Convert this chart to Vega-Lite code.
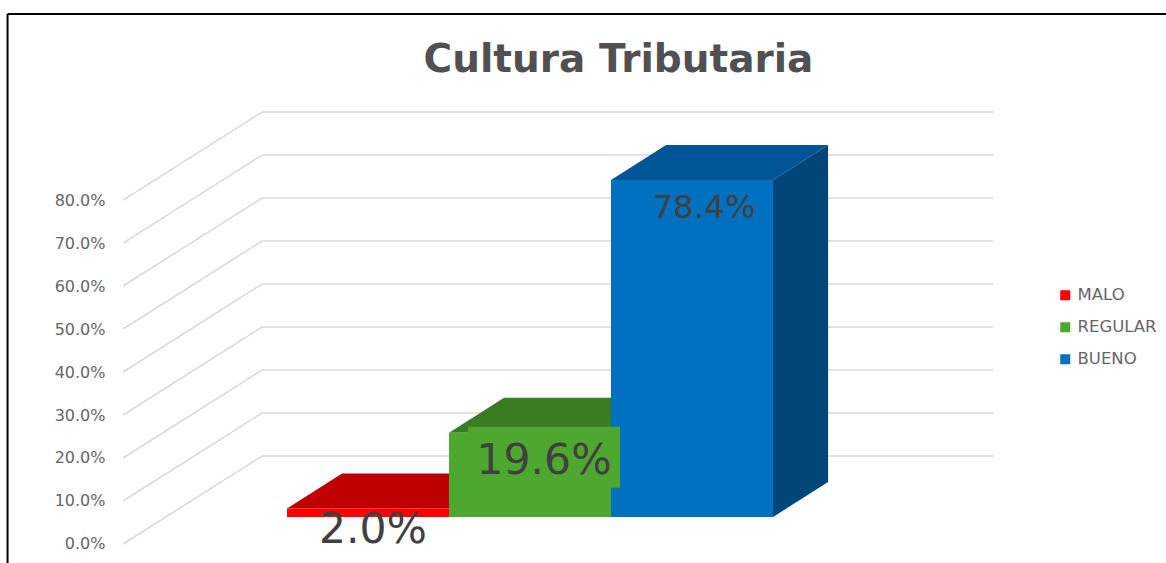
{
"$schema":"https://vega.github.io/schema/vega-lite/v6.json",
"width":1061,"height":463,
"autosize":{"type":"none"},
"padding":{"left":105,"top":100,"right":0,"bottom":0},
"background":"white",
"config":{"view":{"stroke":null}},
"title":{"text":"Cultura Tributaria","font":"DejaVu Sans","fontSize":39,"fontWeight":"bold","color":"#505050","anchor":"middle","dx":-17,"offset":-67,"frame":"group"},
"datasets":{
"lineas":[{"v":0},{"v":0.1},{"v":0.2},{"v":0.3},{"v":0.4},{"v":0.5},{"v":0.6},{"v":0.7},{"v":0.8}],
"barras":[
{"categoria":"MALO","valor":0.02,"inicio":0,"fin":1},
{"categoria":"REGULAR","valor":0.196,"inicio":1,"fin":2},
{"categoria":"BUENO","valor":0.784,"inicio":2,"fin":3}],
"caras":[
{"cara":"top MALO","u":0,"a":0.02,"b":0.02},{"cara":"top MALO","u":0.34,"a":0.02,"b":0.1014},{"cara":"top MALO","u":1,"a":0.02,"b":0.1014},{"cara":"top MALO","u":1.34,"a":0.1014,"b":0.1014},
{"cara":"top REGULAR","u":1,"a":0.196,"b":0.196},{"cara":"top REGULAR","u":1.34,"a":0.196,"b":0.2774},{"cara":"top REGULAR","u":2,"a":0.196,"b":0.2774},{"cara":"top REGULAR","u":2.34,"a":0.2774,"b":0.2774},
{"cara":"top BUENO","u":2,"a":0.784,"b":0.784},{"cara":"top BUENO","u":2.34,"a":0.784,"b":0.8654},{"cara":"top BUENO","u":3,"a":0.784,"b":0.8654},{"cara":"top BUENO","u":3.34,"a":0.8654,"b":0.8654},
{"cara":"side BUENO","u":3,"a":0,"b":0.784},{"cara":"side BUENO","u":3.34,"a":0.0814,"b":0.8654}]
},
"encoding":{},
"layer":[
{"data":{"name":"lineas"},"mark":{"type":"rule","color":"#D9D9D9","strokeWidth":1.5,"yOffset":-88},
 "encoding":{"x":{"datum":-0.154,"type":"quantitative","scale":{"domain":[-1.1235,5.4259],"nice":false,"zero":false},"axis":null},"x2":{"datum":4.358},
 "y":{"field":"v","type":"quantitative","scale":{"domain":[-0.0442,1.0326],"nice":false,"zero":false},
  "axis":{"title":null,"values":[0,0.1,0.2,0.3,0.4,0.5,0.6,0.7,0.8],"format":".1%","domain":false,"ticks":false,"grid":false,"labelPadding":0,"labelFont":"DejaVu Sans","labelFontSize":16,"labelColor":"#666666"}}}},
{"data":{"name":"lineas"},"mark":{"type":"rule","color":"#D9D9D9","strokeWidth":1.5,"y2Offset":-88},
 "encoding":{"x":{"datum":-1.012,"type":"quantitative"},"x2":{"datum":-0.154},"y":{"field":"v","type":"quantitative"},"y2":{"field":"v"}}},
{"data":{"name":"caras"},"transform":[{"filter":"datum.cara==='top MALO'"}],"mark":{"type":"area","color":"#BE0000","yOffset":-27,"y2Offset":-27},
 "encoding":{"x":{"field":"u","type":"quantitative"},"y":{"field":"a","type":"quantitative"},"y2":{"field":"b"}}},
{"data":{"name":"caras"},"transform":[{"filter":"datum.cara==='top REGULAR'"}],"mark":{"type":"area","color":"#3A7C22","yOffset":-27,"y2Offset":-27},
 "encoding":{"x":{"field":"u","type":"quantitative"},"y":{"field":"a","type":"quantitative"},"y2":{"field":"b"}}},
{"data":{"name":"caras"},"transform":[{"filter":"datum.cara==='top BUENO'"}],"mark":{"type":"area","color":"#005596","yOffset":-27,"y2Offset":-27},
 "encoding":{"x":{"field":"u","type":"quantitative"},"y":{"field":"a","type":"quantitative"},"y2":{"field":"b"}}},
{"data":{"name":"barras"},"mark":{"type":"rect","yOffset":-27,"y2Offset":-27},
 "encoding":{"x":{"field":"inicio","type":"quantitative"},"x2":{"field":"fin"},"y":{"field":"valor","type":"quantitative"},"y2":{"datum":0},
 "color":{"field":"categoria","type":"nominal","scale":{"domain":["MALO","REGULAR","BUENO"],"range":["#FF0000","#4EA72E","#0070C0"]},
  "legend":{"title":null,"orient":"none","legendX":952,"legendY":187,"symbolType":"square","symbolSize":100,"symbolStrokeWidth":0,"rowPadding":15,"labelFont":"DejaVu Sans","labelFontSize":16.5,"labelColor":"#666666","labelOffset":4}}}},
{"data":{"name":"caras"},"transform":[{"filter":"datum.cara==='side BUENO'"}],"mark":{"type":"area","color":"#004679","yOffset":-27,"y2Offset":-27},
 "encoding":{"x":{"field":"u","type":"quantitative"},"y":{"field":"a","type":"quantitative"},"y2":{"field":"b"}}},
{"data":{"name":"barras"},"transform":[{"filter":"datum.categoria==='REGULAR'"}],"mark":{"type":"rect","color":"#4EA72E","xOffset":19,"x2Offset":9,"yOffset":-33,"y2Offset":28},
 "encoding":{"x":{"field":"inicio","type":"quantitative"},"x2":{"field":"fin"},"y":{"field":"valor","type":"quantitative"},"y2":{"field":"valor"}}},
{"data":{"name":"barras"},"transform":[{"filter":"datum.categoria==='MALO'"}],"mark":{"type":"text","font":"DejaVu Sans","fontSize":42.5,"color":"#404040","align":"center","baseline":"middle","dx":86,"dy":-5},
 "encoding":{"x":{"field":"inicio","type":"quantitative"},"y":{"field":"valor","type":"quantitative"},"text":{"field":"valor","type":"quantitative","format":".1%"}}},
{"data":{"name":"barras"},"transform":[{"filter":"datum.categoria==='REGULAR'"}],"mark":{"type":"text","font":"DejaVu Sans","fontSize":42.5,"color":"#404040","align":"center","baseline":"middle","dx":95,"dy":1},
 "encoding":{"x":{"field":"inicio","type":"quantitative"},"y":{"field":"valor","type":"quantitative"},"text":{"field":"valor","type":"quantitative","format":".1%"}}},
{"data":{"name":"barras"},"transform":[{"filter":"datum.categoria==='BUENO'"}],"mark":{"type":"text","font":"DejaVu Sans","fontSize":32.5,"color":"#404040","align":"center","baseline":"middle","dx":93,"dy":1},
 "encoding":{"x":{"field":"inicio","type":"quantitative"},"y":{"field":"valor","type":"quantitative"},"text":{"field":"valor","type":"quantitative","format":".1%"}}},
{"data":{"values":[{"marco":1.2326}]},"mark":{"type":"rule","color":"black","strokeWidth":2},
 "encoding":{"x":{"datum":-1.725,"type":"quantitative"},"x2":{"datum":5.4259},"y":{"field":"marco","type":"quantitative"}}},
{"data":{"values":[{"marco":1.2326}]},"mark":{"type":"rule","color":"black","strokeWidth":2},
 "encoding":{"x":{"datum":-1.725,"type":"quantitative"},"y":{"field":"marco","type":"quantitative"},"y2":{"datum":-0.0442}}}
]
}
